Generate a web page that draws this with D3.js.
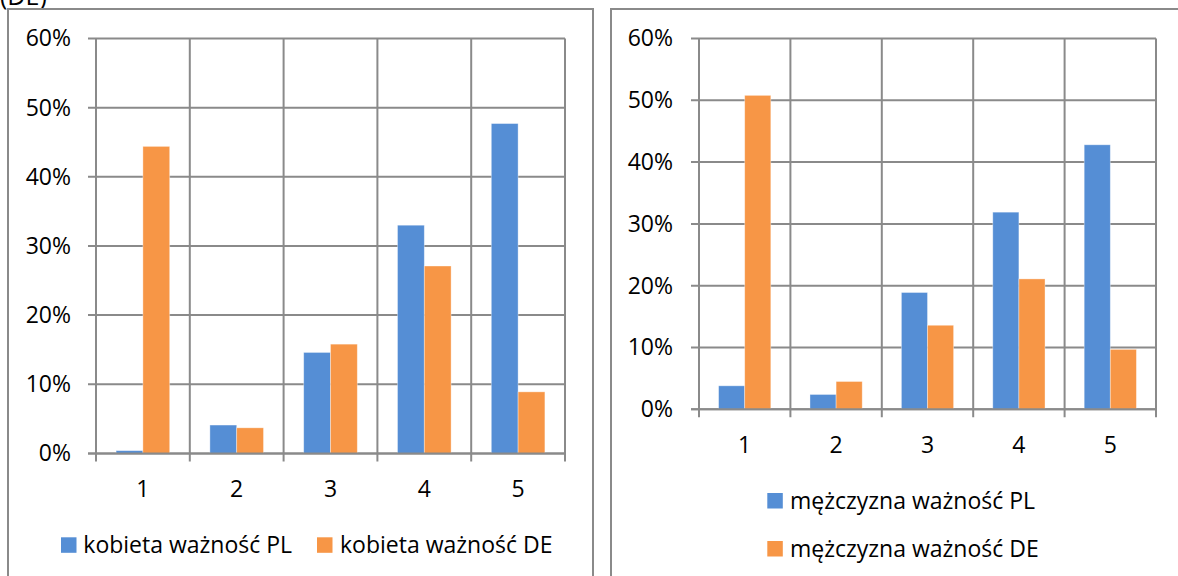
<!DOCTYPE html>
<html>
<head>
<meta charset="utf-8">
<script src="https://cdn.jsdelivr.net/npm/d3@7"></script>
<style>
  html, body { margin: 0; padding: 0; background: #fff; }
  svg { display: block; }
  text { font-family: "Open Sans", "Noto Sans", sans-serif; fill: #000; }
</style>
</head>
<body>
<svg id="chart" width="1178" height="576"></svg>
<script>
// ---- data ----
const categories = ["1", "2", "3", "4", "5"];
const yTicks = [0, 10, 20, 30, 40, 50, 60];
const womenPL = [0.4, 4.1, 14.6, 33.0, 47.7];
const womenDE = [44.4, 3.7, 15.8, 27.1, 8.9];
const menPL = [3.8, 2.4, 18.9, 31.9, 42.8];
const menDE = [50.8, 4.5, 13.6, 21.1, 9.7];
const seriesWomen = ["kobieta ważność PL", "kobieta ważność DE"];
const seriesMen = ["mężczyzna ważność PL", "mężczyzna ważność DE"];
const headerText = "(DE)";

const colors = ["#558ED5", "#F79646"];
const gridColor = "#8a8a8a";
const fontSize = 23;

const svg = d3.select("#chart");

// header text (cut at top, as in the reference)
svg.append("text").attr("x", 0).attr("y", 5).attr("font-size", 25).text(headerText);

// outer boxes
svg.append("rect").attr("x", 8).attr("y", 9).attr("width", 585).attr("height", 620)
  .attr("fill", "none").attr("stroke", gridColor).attr("stroke-width", 2);
svg.append("rect").attr("x", 611).attr("y", 9).attr("width", 620).attr("height", 620)
  .attr("fill", "none").attr("stroke", gridColor).attr("stroke-width", 2);

function drawChart(cfg) {
  const g = svg.append("g");
  const x = d3.scaleBand().domain(categories).range([cfg.x0, cfg.x1]).paddingInner(0).paddingOuter(0);
  const bw = x.bandwidth();
  const gapHalf = 0.75 * bw / 3.5;
  const xs = d3.scaleBand().domain([0, 1]).range([gapHalf, bw - gapHalf]).padding(0);
  const y = d3.scaleLinear().domain([0, 60]).range([cfg.y0, cfg.yTop]);

  // horizontal gridlines (with outside tick)
  g.append("g").selectAll("line").data(yTicks).join("line")
    .attr("x1", cfg.x0 - 8).attr("x2", cfg.x1)
    .attr("y1", d => y(d)).attr("y2", d => y(d))
    .attr("stroke", gridColor).attr("stroke-width", 2);

  // vertical gridlines at category boundaries (extend below as ticks)
  const bounds = categories.map(c => x(c)).concat([cfg.x1]);
  g.append("g").selectAll("line").data(bounds).join("line")
    .attr("x1", d => d).attr("x2", d => d)
    .attr("y1", y(60)).attr("y2", cfg.y0 + 8)
    .attr("stroke", gridColor).attr("stroke-width", 2);

  // bars
  [cfg.s0, cfg.s1].forEach((vals, si) => {
    g.append("g").selectAll("rect").data(vals).join("rect")
      .attr("x", (d, i) => x(categories[i]) + xs(si))
      .attr("width", xs.bandwidth())
      .attr("y", d => y(d))
      .attr("height", d => cfg.y0 - y(d))
      .attr("fill", colors[si])
      .attr("stroke", "#ffffff").attr("stroke-opacity", 0.45).attr("stroke-width", 0.8);
  });

  // x axis line over bars
  g.append("line").attr("x1", cfg.x0 - 8).attr("x2", cfg.x1).attr("y1", cfg.y0).attr("y2", cfg.y0)
    .attr("stroke", gridColor).attr("stroke-width", 2);

  // y axis labels
  const ya = g.append("g").attr("transform", `translate(${cfg.x0},0)`)
    .call(d3.axisLeft(y).tickValues(yTicks).tickSize(0).tickPadding(cfg.yPad).tickFormat(d => d + "%"));
  ya.select(".domain").remove();
  ya.selectAll("text").attr("font-size", fontSize).attr("font-family", null).attr("fill", "#000");

  // x axis labels
  const xa = g.append("g").attr("transform", `translate(0,${cfg.y0})`)
    .call(d3.axisBottom(x).tickSize(0));
  xa.select(".domain").remove();
  xa.selectAll("text").attr("font-size", fontSize).attr("font-family", null).attr("fill", "#000")
    .attr("dy", null).attr("y", cfg.xLabelBase);
}

drawChart({ x0: 96, x1: 565, y0: 453.4, yTop: 38.5, s0: womenPL, s1: womenDE, yPad: 25, xLabelBase: 44 });
drawChart({ x0: 699, x1: 1156, y0: 409.3, yTop: 38.5, s0: menPL, s1: menDE, yPad: 26, xLabelBase: 44 });

// legends
const legW = [
  { name: seriesWomen[0], bx: 61, by: 537.3, tx: 83.3, base: 553.3, c: colors[0] },
  { name: seriesWomen[1], bx: 317, by: 537.3, tx: 340, base: 553.3, c: colors[1] },
  { name: seriesMen[0], bx: 767.3, by: 493, tx: 790, base: 508.8, c: colors[0] },
  { name: seriesMen[1], bx: 767.3, by: 541, tx: 790, base: 556.8, c: colors[1] }
];
const lg = svg.append("g").selectAll("g").data(legW).join("g");
lg.append("rect").attr("x", d => d.bx).attr("y", d => d.by).attr("width", 15.5).attr("height", 15.5)
  .attr("fill", d => d.c);
lg.append("text").attr("x", d => d.tx).attr("y", d => d.base).attr("font-size", 23).text(d => d.name);
</script>
</body>
</html>
